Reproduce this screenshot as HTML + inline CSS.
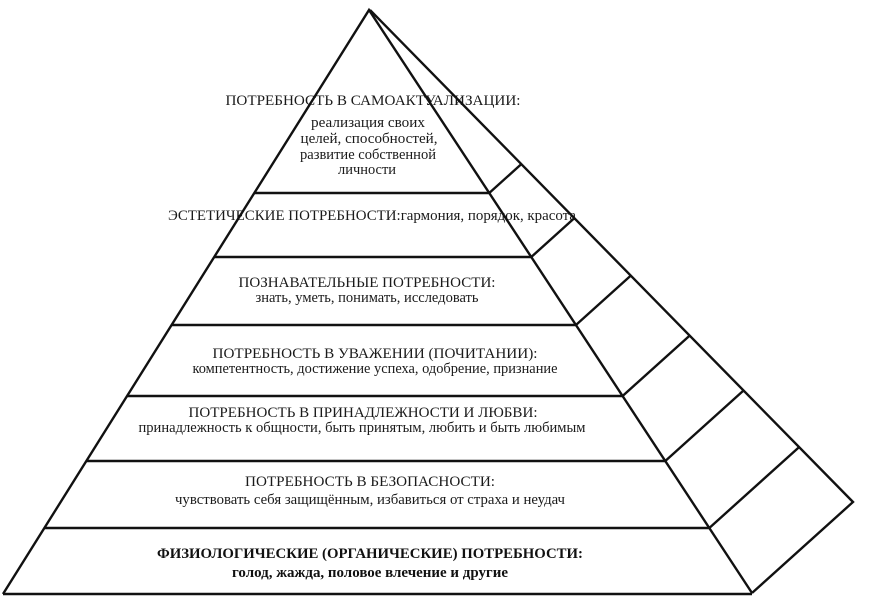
<!DOCTYPE html>
<html><head><meta charset="utf-8"><style>
html,body{margin:0;padding:0;background:#fff;}
svg{display:block;}
text{font-family:"Liberation Serif",serif;font-size:14.5px;fill:#1a1a1a;}
</style></head><body>
<svg id="s" width="870" height="611" viewBox="0 0 870 611" xmlns="http://www.w3.org/2000/svg">
<g text-anchor="middle">
<text x="373" y="105" textLength="295" lengthAdjust="spacingAndGlyphs">ПОТРЕБНОСТЬ В САМОАКТУАЛИЗАЦИИ:</text>
<text x="368" y="127" textLength="114" lengthAdjust="spacingAndGlyphs">реализация своих</text>
<text x="369" y="143" textLength="137" lengthAdjust="spacingAndGlyphs">целей, способностей,</text>
<text x="368" y="159" textLength="136" lengthAdjust="spacingAndGlyphs">развитие собственной</text>
<text x="367" y="174" textLength="58" lengthAdjust="spacingAndGlyphs">личности</text>
<text x="372" y="220" textLength="408" lengthAdjust="spacingAndGlyphs">ЭСТЕТИЧЕСКИЕ ПОТРЕБНОСТИ:гармония, порядок, красота</text>
<text x="367" y="287" textLength="257" lengthAdjust="spacingAndGlyphs">ПОЗНАВАТЕЛЬНЫЕ ПОТРЕБНОСТИ:</text>
<text x="367" y="302" textLength="223" lengthAdjust="spacingAndGlyphs">знать, уметь, понимать, исследовать</text>
<text x="375" y="358" textLength="325" lengthAdjust="spacingAndGlyphs">ПОТРЕБНОСТЬ В УВАЖЕНИИ (ПОЧИТАНИИ):</text>
<text x="375" y="373" textLength="365" lengthAdjust="spacingAndGlyphs">компетентность, достижение успеха, одобрение, признание</text>
<text x="363" y="417" textLength="349" lengthAdjust="spacingAndGlyphs">ПОТРЕБНОСТЬ В ПРИНАДЛЕЖНОСТИ И ЛЮБВИ:</text>
<text x="362" y="432" textLength="447" lengthAdjust="spacingAndGlyphs">принадлежность к общности, быть принятым, любить и быть любимым</text>
<text x="370" y="486" textLength="250" lengthAdjust="spacingAndGlyphs">ПОТРЕБНОСТЬ В БЕЗОПАСНОСТИ:</text>
<text x="370" y="504" textLength="390" lengthAdjust="spacingAndGlyphs">чувствовать себя защищённым, избавиться от страха и неудач</text>
<text x="370" y="558" textLength="426" lengthAdjust="spacingAndGlyphs" font-weight="bold" style="fill:#111">ФИЗИОЛОГИЧЕСКИЕ (ОРГАНИЧЕСКИЕ) ПОТРЕБНОСТИ:</text>
<text x="370" y="577" textLength="276" lengthAdjust="spacingAndGlyphs" font-weight="bold" style="fill:#111">голод, жажда, половое влечение и другие</text>
</g>
<g id="L" stroke="#111" stroke-width="2.4" fill="none" stroke-linejoin="miter">
<polyline points="3,594 369,10 752,593"/>
<polyline points="370,10 853,502 752,593"/>
<line x1="3" y1="594" x2="752" y2="594"/>
</g>
</svg>
<script>
(function(){
var g=document.getElementById('L'),ns='http://www.w3.org/2000/svg';
var ax=369,ay=10,fx=383/583;
var bx0=370,by0=10,bdx=853-370,bdy=502-10;
var dx=101,dy=-91;
[193,257,325,396,461,528].forEach(function(y){
 var xf=ax+(y-ay)*fx;
 var det=dx*(-bdy)-dy*(-bdx);
 var rx=bx0-xf, ry=by0-y;
 var t=(rx*(-bdy)-ry*(-bdx))/det;
 var ex=xf+t*dx, ey=y+t*dy;
 var xL=369-(y-10)*366/584;
 var l1=document.createElementNS(ns,'line');
 l1.setAttribute('x1',xL);l1.setAttribute('y1',y);l1.setAttribute('x2',xf);l1.setAttribute('y2',y);
 g.appendChild(l1);
 var l2=document.createElementNS(ns,'line');
 l2.setAttribute('x1',xf);l2.setAttribute('y1',y);l2.setAttribute('x2',ex);l2.setAttribute('y2',ey);
 g.appendChild(l2);
});
})();
</script>
</body></html>
